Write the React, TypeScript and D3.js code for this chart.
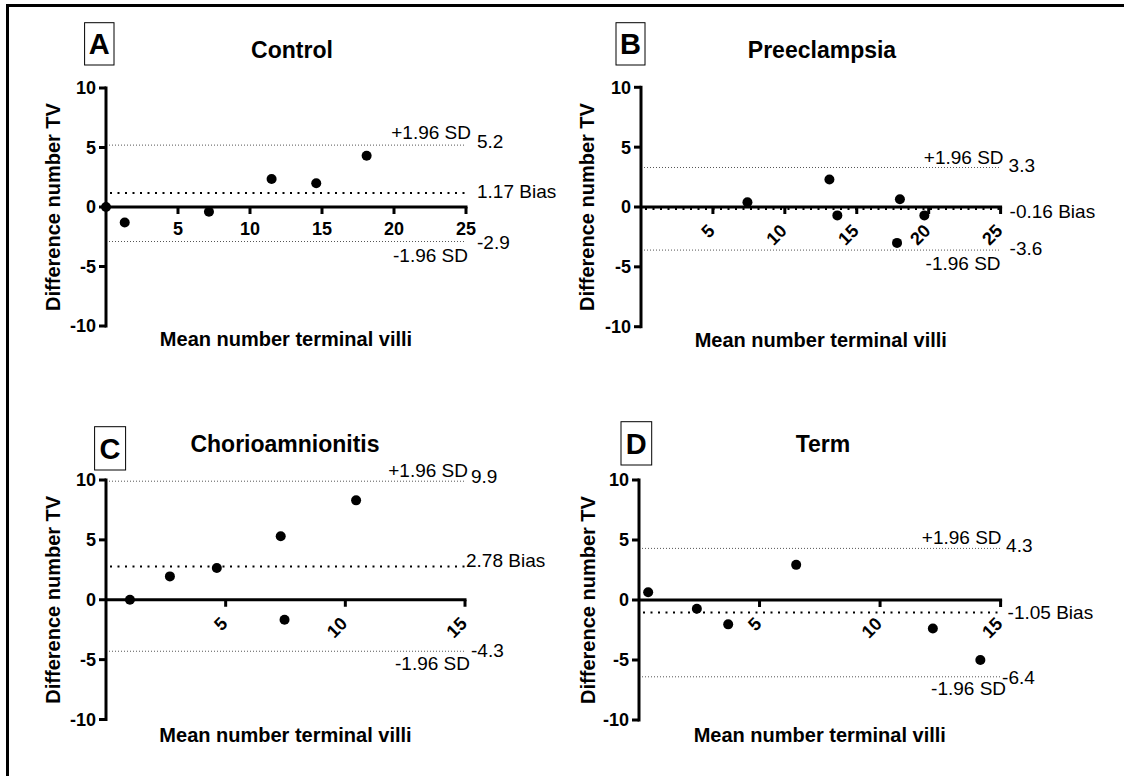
import * as d3 from "d3";

// panels: Bland-Altman plots of terminal villi counts
const panelLetters = ["A", "B", "C", "D"];
const panelTitles = ["Control", "Preeclampsia", "Chorioamnionitis", "Term"];
const xMaxes = [25, 25, 15, 15];
const yTicks = [-10, -5, 0, 5, 10];

const controlMean = [0, 1.3, 7.15, 11.5, 14.6, 18.1];
const controlDiff = [0, -1.3, -0.4, 2.35, 2.0, 4.3];
const controlLimits = [5.2, 1.17, -2.9]; // +1.96 SD, bias, -1.96 SD

const preeclampsiaMean = [7.4, 13.1, 13.65, 18.0, 17.8, 19.7];
const preeclampsiaDiff = [0.4, 2.3, -0.7, 0.65, -3.0, -0.7];
const preeclampsiaLimits = [3.3, -0.16, -3.6];

const chorioMean = [1.0, 2.67, 4.63, 7.3, 7.46, 10.45];
const chorioDiff = [0, 1.95, 2.65, 5.3, -1.67, 8.3];
const chorioLimits = [9.9, 2.78, -4.3];

const termMean = [0.38, 2.4, 3.7, 6.52, 12.19, 14.16];
const termDiff = [0.64, -0.73, -2.03, 2.93, -2.37, -5.0];
const termLimits = [4.3, -1.05, -6.4];

const means = [controlMean, preeclampsiaMean, chorioMean, termMean];
const diffs = [controlDiff, preeclampsiaDiff, chorioDiff, termDiff];
const limits = [controlLimits, preeclampsiaLimits, chorioLimits, termLimits];

// layout (pixels)
const layouts = [
  { x0: 106, x1: 466, yTop: 88, yBot: 326, box: [84.6, 22.7, 29.4, 42.3], titleX: 292, titleY: 58, xtY: 346, ytX: 52.5, rotate: false,
    off: { upR: 5, upDy: -6, valL: 11, valDy: 3, biasL: 11, biasDy: 5, loValL: 11, loValDy: 7, loR: 2, loDy: 20 } },
  { x0: 641, x1: 1000.6, yTop: 87.3, yBot: 326.7, box: [616, 22.7, 29, 42.3], titleX: 822, titleY: 58, xtY: 347, ytX: 587, rotate: true,
    off: { upR: 3, upDy: -3, valL: 8, valDy: 5, biasL: 9, biasDy: 9, loValL: 9, loValDy: 4.5, loR: 0, loDy: 20 } },
  { x0: 106, x1: 465, yTop: 480, yBot: 719.5, box: [94.6, 426.7, 31, 43.3], titleX: 285, titleY: 451.7, xtY: 741.7, ytX: 52.5, rotate: true,
    off: { upR: 3, upDy: -4, valL: 6, valDy: 1.5, biasL: 1, biasDy: 1, loValL: 6, loValDy: 6, loR: 5, loDy: 19 } },
  { x0: 639, x1: 1000.6, yTop: 480, yBot: 720, box: [621, 421.7, 30.7, 43.3], titleX: 823, titleY: 451.7, xtY: 741.7, ytX: 588, rotate: true,
    off: { upR: 1, upDy: -4, valL: 5.5, valDy: 4, biasL: 7, biasDy: 6.5, loValL: 1.5, loValDy: 7.5, loR: 5.5, loDy: 18.5 } },
];

const FONT = "'Liberation Sans', Arial, sans-serif";

function Panel({ i }: { i: number }) {
  const L = layouts[i];
  const x = d3.scaleLinear().domain([0, xMaxes[i]]).range([L.x0, L.x1]);
  const y = d3.scaleLinear().domain([-10, 10]).range([L.yBot, L.yTop]);
  const xTicks = d3.range(5, xMaxes[i] + 1, 5);
  const [up, bias, lo] = limits[i];
  const o = L.off;
  const y0 = y(0);
  const [bx, by, bw, bh] = L.box;

  return (
    <g fontFamily={FONT}>
      {/* letter box */}
      <rect x={bx} y={by} width={bw} height={bh} fill="#fff" stroke="#000" strokeWidth={1} />
      <text x={bx + bw / 2} y={by + bh / 2} dy="0.36em" textAnchor="middle" fontSize={29} fontWeight="bold">{panelLetters[i]}</text>
      <text x={L.titleX} y={L.titleY} textAnchor="middle" fontSize={23} fontWeight="bold">{panelTitles[i]}</text>

      {/* limit lines */}
      <line x1={L.x0} x2={L.x1} y1={y(up)} y2={y(up)} stroke="#555" strokeWidth={1} strokeDasharray="1 2" />
      <line x1={L.x0} x2={L.x1} y1={y(lo)} y2={y(lo)} stroke="#555" strokeWidth={1} strokeDasharray="1 2" />
      <line x1={L.x0 + 4} x2={L.x1} y1={y(bias)} y2={y(bias)} stroke="#000" strokeWidth={2} strokeDasharray="2 5.5" />

      {/* axes */}
      <line x1={L.x0} x2={L.x0} y1={L.yTop - 1.5} y2={L.yBot + 1.5} stroke="#000" strokeWidth={3} />
      {yTicks.map((t) => (
        <g key={t}>
          <line x1={L.x0 - 7} x2={L.x0} y1={y(t)} y2={y(t)} stroke="#000" strokeWidth={3} />
          <text x={L.x0 - 10} y={y(t)} dy="0.36em" textAnchor="end" fontSize={18} fontWeight="bold">{t}</text>
        </g>
      ))}
      <line x1={L.x0} x2={L.x1 + 1.5} y1={y0} y2={y0} stroke="#000" strokeWidth={3} />
      {xTicks.map((t) => (
        <g key={t}>
          <line x1={x(t)} x2={x(t)} y1={y0} y2={y0 + 7} stroke="#000" strokeWidth={3} />
          {L.rotate ? (
            <text transform={`translate(${x(t) + 3},${y0 + 25}) rotate(-45)`} textAnchor="end" fontSize={18} fontWeight="bold">{t}</text>
          ) : (
            <text x={x(t)} y={y0 + 28} textAnchor="middle" fontSize={18} fontWeight="bold">{t}</text>
          )}
        </g>
      ))}

      {/* points */}
      {means[i].map((m, k) => (
        <circle key={k} cx={x(m)} cy={y(diffs[i][k])} r={5} fill="#000" />
      ))}

      {/* limit labels */}
      <g fontSize={19}>
        <text x={L.x1 + o.upR} y={y(up) + o.upDy} textAnchor="end">+1.96 SD</text>
        <text x={L.x1 + o.valL} y={y(up) + o.valDy}>{up.toFixed(1)}</text>
        <text x={L.x1 + o.biasL} y={y(bias) + o.biasDy}>{`${bias.toFixed(2)} Bias`}</text>
        <text x={L.x1 + o.loValL} y={y(lo) + o.loValDy}>{lo.toFixed(1)}</text>
        <text x={L.x1 + o.loR} y={y(lo) + o.loDy} textAnchor="end">-1.96 SD</text>
      </g>

      {/* axis titles */}
      <text x={(L.x0 + L.x1) / 2} y={L.xtY} textAnchor="middle" fontSize={20} fontWeight="bold">Mean number terminal villi</text>
      <text transform={`translate(${L.ytX},${(L.yTop + L.yBot) / 2}) rotate(-90)`} dy="0.36em" textAnchor="middle" fontSize={20} fontWeight="bold">
        Difference number TV
      </text>
    </g>
  );
}

export default function App() {
  return (
    <svg width={1124} height={776} style={{ position: "absolute", left: 0, top: 0, background: "#fff" }}>
      <rect width={1124} height={776} fill="#fff" />
      <line x1={6} x2={1124} y1={5.5} y2={5.5} stroke="#000" strokeWidth={3} />
      <line x1={7.5} x2={7.5} y1={4} y2={776} stroke="#000" strokeWidth={3} />
      {panelLetters.map((_, i) => (
        <Panel key={i} i={i} />
      ))}
    </svg>
  );
}
